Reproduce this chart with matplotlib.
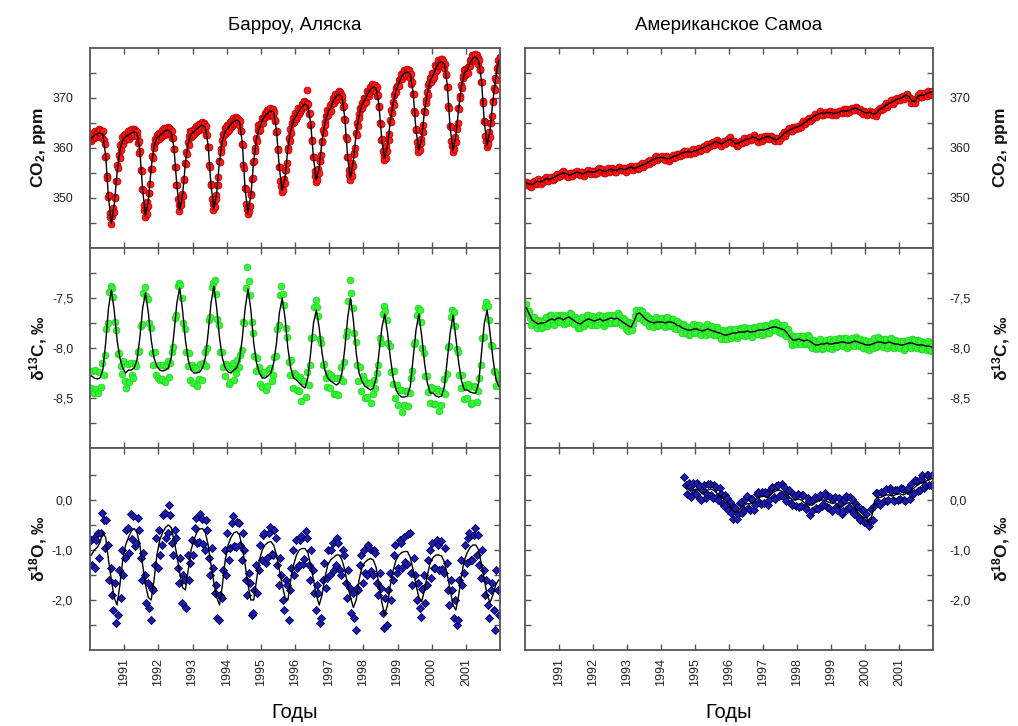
import numpy as np
import matplotlib
matplotlib.use("Agg")
import matplotlib.pyplot as plt
from matplotlib.ticker import FixedLocator, FuncFormatter

plt.rcParams['font.family'] = ['Liberation Sans', 'DejaVu Sans']
plt.rcParams['mathtext.default'] = 'regular'

# ---------------- data ----------------
years = list(range(1990, 2002))
year_ticks = list(range(1991, 2002))
titles = ["Барроу, Аляска", "Американское Самоа"]
xlabel = "Годы"
ylabels = ["CO$_2$, ppm", "δ$^{13}$C, ‰", "δ$^{18}$O, ‰"]

# Barrow CO2 smooth curve, monthly (Jan..Dec)
brw_co2 = [
    [362.0, 362.5, 362.8, 363.0, 362.8, 358.5, 350.0, 345.0, 348.5, 355.0, 359.5, 361.5],
    [362.3, 362.6, 363.0, 363.2, 363.0, 359.5, 351.5, 346.5, 349.5, 356.0, 360.5, 362.0],
    [362.5, 363.0, 363.5, 363.6, 363.2, 360.0, 352.5, 347.5, 350.5, 357.0, 361.0, 362.8],
    [363.2, 363.8, 364.3, 364.6, 364.2, 360.5, 352.5, 347.8, 351.0, 357.5, 361.5, 363.3],
    [364.0, 364.8, 365.3, 365.6, 365.3, 361.0, 351.5, 347.0, 350.5, 357.5, 362.0, 364.0],
    [365.5, 366.5, 367.0, 367.4, 367.2, 363.5, 356.0, 351.5, 354.0, 360.0, 363.5, 365.5],
    [366.5, 367.5, 368.3, 368.8, 368.5, 365.0, 358.0, 353.5, 356.0, 361.5, 365.0, 367.0],
    [368.0, 369.5, 370.3, 370.8, 370.3, 366.0, 358.0, 354.0, 357.5, 363.0, 366.5, 368.5],
    [369.5, 370.8, 371.7, 372.2, 372.0, 368.5, 361.5, 358.0, 360.5, 365.5, 369.0, 371.5],
    [373.0, 374.3, 375.0, 375.2, 374.8, 371.0, 363.5, 359.5, 362.0, 367.5, 371.0, 373.5],
    [374.5, 376.0, 377.0, 377.3, 376.8, 372.5, 364.0, 359.5, 362.5, 368.0, 372.5, 375.0],
    [375.5, 377.0, 378.0, 378.2, 377.5, 373.5, 365.0, 360.5, 363.5, 369.5, 374.0, 377.5],
]
# Barrow CO2 flask samples, four per month (Jan..Dec, one row per year)
brw_co2_pts = [
    [362.6,361.5,362.9,361.8, 363.1,362.0,362.3,363.4, 362.2,363.5,362.6,363.3, 363.8,362.4,363.6,362.7,
     363.4,362.1,363.5,361.6, 360.9,358.3,358.4,354.5, 354.0,350.3,350.6,347.0, 346.2,344.8,346.4,347.1,
     348.0,347.3,350.3,350.1, 353.5,353.4,356.6,356.0, 358.6,358.1,360.6,359.6, 361.0,362.2,360.9,362.6],
    [361.7,362.9,362.0,363.1, 362.2,363.4,361.9,362.8, 363.6,362.5,363.8,362.4, 362.6,363.9,362.8,363.7,
     363.5,362.4,363.2,361.0, 361.5,359.1,359.4,355.6, 355.4,351.8,351.7,348.7, 347.6,346.3,347.8,346.8,
     349.2,348.5,351.1,351.0, 352.8,355.9,355.8,358.5, 358.1,360.6,360.0,361.8, 361.4,362.6,361.7,362.9],
    [363.1,361.9,362.8,362.2, 363.6,362.4,363.3,362.7, 364.1,363.0,364.0,362.9, 363.0,364.3,363.2,364.1,
     363.8,362.6,363.5,362.0, 362.0,359.8,359.9,356.3, 356.2,352.6,352.7,349.8, 348.6,347.4,348.7,349.2,
     348.6,350.9,350.5,353.7, 353.8,357.0,356.8,359.3, 358.8,361.2,360.6,362.4, 363.4,362.2,363.5,362.4],
    [362.6,363.8,362.9,364.0, 363.2,364.5,363.4,364.2, 364.9,363.7,364.8,363.9, 364.0,365.3,364.2,365.1,
     364.9,363.6,364.4,362.7, 362.6,360.3,360.3,356.6, 356.3,352.8,352.7,349.8, 348.8,347.6,349.0,348.2,
     350.6,349.9,352.7,352.6, 354.3,357.5,357.2,359.8, 359.3,361.7,361.0,362.9, 362.7,364.0,363.1,364.2],
    [364.6,363.4,364.5,363.7, 365.3,364.2,365.5,364.4, 364.8,366.0,365.0,365.9, 366.2,365.0,366.1,365.2,
     365.9,364.6,365.5,363.5, 363.4,360.9,360.6,356.6, 356.0,352.0,351.8,348.9, 347.9,346.8,348.2,347.5,
     348.4,350.8,350.6,353.9, 354.1,357.3,357.4,360.0, 359.5,362.1,361.5,363.6, 364.6,363.4,364.8,363.6],
    [364.9,366.1,365.1,366.0, 366.0,367.1,366.2,366.9, 367.6,366.4,367.5,366.6, 366.8,368.0,367.0,367.9,
     367.8,366.5,367.3,365.4, 365.6,363.3,363.4,359.9, 359.6,356.2,356.2,353.5, 352.5,351.3,352.6,351.6,
     353.9,353.0,355.6,355.6, 357.1,360.0,359.7,362.0, 361.5,363.8,363.1,365.0, 365.0,366.1,365.3,366.2],
    [367.1,365.9,366.9,366.2, 368.0,366.9,368.1,367.2, 367.7,368.9,368.0,368.8, 369.4,368.2,369.3,368.4,
     369.1,371.6,368.8,366.9, 367.1,364.7,364.9,361.6, 361.4,358.2,358.2,355.5, 354.4,353.3,354.6,353.6,
     355.9,355.0,357.5,357.4, 358.6,361.5,361.2,363.6, 363.0,365.3,364.6,366.5, 366.4,367.6,366.6,367.7],
    [367.4,368.6,367.5,368.9, 369.0,370.1,369.1,370.2, 370.9,369.7,370.8,369.9, 370.2,371.4,370.4,371.3,
     370.9,369.6,370.4,368.3, 368.4,365.8,365.7,362.2, 361.8,358.3,358.3,355.6, 354.7,353.6,355.2,354.5,
     357.0,356.4,359.0,358.8, 360.1,363.0,362.7,365.1, 364.5,366.8,366.1,368.0, 367.9,369.1,368.1,369.3],
    [370.1,368.9,370.0,369.2, 371.4,370.2,371.3,370.5, 371.1,372.3,371.4,372.2, 372.8,371.6,372.7,371.8,
     372.6,371.3,372.2,370.4, 370.6,368.2,368.4,365.1, 364.9,361.7,361.9,359.4, 358.5,357.6,359.1,358.1,
     360.4,359.5,361.9,361.6, 362.8,365.6,365.2,367.6, 367.0,369.3,368.6,370.6, 371.0,372.1,371.2,372.4],
    [372.4,373.6,372.5,373.8, 373.8,374.9,373.9,375.0, 375.6,374.4,375.5,374.6, 374.6,375.8,374.8,375.7,
     375.4,374.1,374.9,372.8, 373.2,370.8,370.9,367.4, 367.1,363.7,363.8,361.2, 360.2,359.2,360.6,359.7,
     361.9,361.0,363.5,363.3, 364.6,367.5,367.2,369.6, 369.0,371.3,370.6,372.6, 373.0,374.1,373.2,374.3],
    [375.1,373.9,375.0,374.3, 376.6,375.4,376.5,375.7, 376.4,377.6,376.7,377.5, 377.9,376.7,377.8,376.9,
     377.4,376.1,376.9,374.6, 374.9,372.3,372.2,368.5, 368.0,364.4,364.3,361.5, 360.4,359.3,360.7,359.9,
     362.2,361.3,364.0,363.8, 365.1,368.0,367.8,370.5, 370.1,372.6,372.1,374.1, 374.5,375.6,374.7,375.9],
    [374.9,376.1,375.0,376.3, 376.4,377.6,376.5,377.7, 378.6,377.4,378.5,377.6, 377.7,378.8,377.9,378.7,
     378.1,376.8,377.6,375.6, 375.8,373.3,373.2,369.5, 369.0,365.4,365.3,362.5, 361.4,360.3,361.7,360.9,
     363.2,362.3,365.1,365.0, 366.5,369.5,369.3,372.0, 371.6,374.1,373.7,376.1, 375.6,377.7,376.9,378.3],
]

brw_c13 = [
    [-8.28, -8.30, -8.31, -8.30, -8.22, -7.95, -7.60, -7.42, -7.62, -7.92, -8.10, -8.20],
    [-8.25, -8.22, -8.22, -8.20, -8.12, -7.90, -7.60, -7.45, -7.65, -7.92, -8.10, -8.18],
    [-8.22, -8.23, -8.22, -8.20, -8.10, -7.85, -7.55, -7.40, -7.62, -7.92, -8.12, -8.22],
    [-8.25, -8.25, -8.24, -8.20, -8.10, -7.85, -7.55, -7.38, -7.60, -7.90, -8.10, -8.20],
    [-8.24, -8.25, -8.22, -8.20, -8.12, -7.90, -7.60, -7.41, -7.62, -7.95, -8.15, -8.25],
    [-8.30, -8.30, -8.28, -8.25, -8.15, -7.95, -7.65, -7.50, -7.70, -8.00, -8.20, -8.30],
    [-8.32, -8.35, -8.38, -8.40, -8.30, -8.05, -7.75, -7.62, -7.80, -8.05, -8.22, -8.30],
    [-8.33, -8.35, -8.37, -8.35, -8.25, -8.00, -7.70, -7.50, -7.72, -8.05, -8.25, -8.33],
    [-8.38, -8.40, -8.42, -8.40, -8.30, -8.05, -7.80, -7.66, -7.85, -8.10, -8.30, -8.42],
    [-8.47, -8.49, -8.49, -8.48, -8.38, -8.10, -7.82, -7.66, -7.88, -8.15, -8.35, -8.45],
    [-8.45, -8.48, -8.49, -8.48, -8.38, -8.12, -7.85, -7.67, -7.90, -8.15, -8.33, -8.42],
    [-8.42, -8.44, -8.45, -8.45, -8.35, -8.05, -7.75, -7.62, -7.85, -8.10, -8.30, -8.38],
]
# flask samples: deviation from the curve, two per month
brw_c13_dev = [
    [-0.12,0.05, -0.15,0.08, -0.10,-0.14, 0.06,-0.09, 0.07,-0.05, -0.12,0.14, -0.15,0.16, 0.04,0.02, 0.13,-0.12, 0.10,-0.14, 0.05,-0.08, -0.06,0.07],
    [-0.08,-0.15, 0.06,-0.12, 0.07,-0.05, -0.10,0.05, -0.06,0.08, -0.13,0.12, -0.16,0.15, 0.06,-0.03, 0.14,-0.10, 0.12,-0.13, -0.07,0.06, -0.09,-0.12],
    [0.05,-0.10, -0.08,0.06, -0.12,0.04, 0.07,-0.09, -0.05,0.06, -0.14,0.15, -0.12,0.17, 0.05,0.03, 0.12,-0.13, 0.11,-0.12, -0.06,0.07, -0.10,0.05],
    [-0.10,0.06, 0.05,-0.13, -0.07,0.08, -0.12,0.05, 0.06,-0.08, -0.15,0.13, -0.14,0.16, 0.03,0.06, 0.14,-0.11, 0.13,-0.14, 0.06,-0.09, -0.08,0.04],
    [0.06,-0.12, -0.09,0.05, 0.07,-0.10, -0.05,0.08, -0.07,0.05, -0.12,0.16, -0.15,0.20, 0.22,0.08, 0.15,-0.12, 0.10,-0.13, -0.08,0.05, 0.06,-0.11],
    [-0.09,0.05, 0.06,-0.12, -0.10,0.07, 0.05,-0.08, -0.12,0.06, -0.13,0.14, -0.12,0.18, 0.12,0.04, 0.13,-0.10, 0.11,-0.14, -0.07,0.08, -0.10,0.05],
    [0.05,-0.10, -0.08,0.06, -0.15,0.05, 0.07,-0.09, 0.06,-0.07, -0.12,0.15, -0.14,0.16, 0.10,0.03, 0.12,-0.11, 0.10,-0.12, 0.06,-0.08, -0.09,0.05],
    [-0.07,0.06, 0.05,-0.11, -0.09,0.07, -0.12,0.05, 0.06,-0.08, -0.14,0.12, -0.13,0.17, 0.18,0.05, 0.12,-0.13, 0.11,-0.12, -0.08,0.06, -0.10,0.05],
    [0.06,-0.12, -0.09,0.05, 0.07,-0.13, -0.06,0.08, -0.10,0.05, -0.12,0.15, -0.15,0.14, 0.08,0.03, 0.13,-0.10, 0.12,-0.14, -0.06,0.07, -0.08,0.05],
    [-0.10,0.05, 0.07,-0.15, -0.08,0.06, 0.05,-0.10, -0.07,0.08, -0.13,0.14, -0.12,0.15, 0.06,0.04, 0.14,-0.12, 0.10,-0.13, 0.07,-0.09, -0.10,0.06],
    [0.05,-0.11, -0.08,0.07, 0.06,-0.14, -0.09,0.05, 0.07,-0.08, -0.14,0.13, -0.13,0.16, 0.05,0.03, 0.12,-0.11, 0.11,-0.12, -0.07,0.06, -0.09,0.05],
    [-0.08,0.06, 0.05,-0.12, -0.10,0.07, 0.06,-0.09, -0.08,0.05, -0.12,0.15, -0.14,0.16, 0.08,0.04, 0.13,-0.12, 0.12,-0.13, 0.06,-0.08, 0.07,0.10],
]

brw_o18 = [
    [-1.10, -1.00, -0.95, -0.85, -0.65, -0.75, -1.20, -1.60, -1.95, -2.10, -1.70, -1.20],
    [-0.90, -0.75, -0.62, -0.57, -0.65, -0.90, -1.30, -1.70, -1.95, -2.00, -1.60, -1.10],
    [-0.80, -0.65, -0.55, -0.50, -0.55, -0.80, -1.10, -1.45, -1.75, -1.80, -1.40, -1.00],
    [-0.80, -0.65, -0.58, -0.57, -0.65, -0.90, -1.30, -1.65, -1.95, -2.10, -1.70, -1.20],
    [-0.90, -0.75, -0.66, -0.63, -0.70, -0.95, -1.30, -1.70, -2.00, -2.00, -1.60, -1.20],
    [-1.00, -0.90, -0.85, -0.83, -0.90, -1.10, -1.40, -1.70, -1.95, -2.00, -1.60, -1.30],
    [-1.10, -1.00, -0.97, -0.97, -1.05, -1.30, -1.60, -1.90, -2.10, -1.90, -1.55, -1.30],
    [-1.20, -1.15, -1.10, -1.10, -1.20, -1.40, -1.70, -1.95, -2.15, -2.00, -1.60, -1.35],
    [-1.25, -1.20, -1.17, -1.20, -1.35, -1.70, -2.05, -2.30, -2.10, -1.70, -1.40, -1.20],
    [-1.10, -1.05, -1.03, -1.03, -1.15, -1.40, -1.70, -1.95, -2.03, -1.80, -1.50, -1.25],
    [-1.15, -1.10, -1.10, -1.12, -1.25, -1.50, -1.80, -2.10, -2.20, -1.90, -1.50, -1.20],
    [-1.05, -0.95, -0.90, -0.90, -1.00, -1.30, -1.60, -1.90, -2.05, -1.90, -1.70, -1.60],
]
brw_o18_dev = [
    [0.3,-0.2, 0.25,-0.35, 0.15,0.3, -0.3,0.2, 0.4,0.25, -0.2,0.35, 0.3,-0.4, 0.25,-0.3, -0.25,0.3, -0.35,-0.2, 0.3,-0.25, 0.2,-0.3],
    [-0.25,0.3, 0.2,-0.3, 0.35,-0.15, 0.25,-0.35, -0.2,0.3, 0.3,-0.25, -0.3,0.25, 0.2,-0.35, 0.3,-0.2, -0.4,0.25, -0.2,0.3, 0.35,-0.25],
    [0.2,-0.3, -0.25,0.35, 0.3,-0.2, -0.15,0.4, 0.25,-0.3, -0.3,0.2, 0.35,-0.25, -0.2,0.3, -0.3,0.25, 0.2,-0.35, 0.3,-0.2, -0.25,0.2],
    [-0.3,0.25, 0.3,-0.2, -0.25,0.3, 0.2,-0.3, -0.35,0.25, 0.3,-0.25, -0.2,0.35, 0.3,-0.2, 0.25,-0.4, -0.3,0.2, -0.25,0.3, 0.2,-0.3],
    [0.25,-0.3, -0.2,0.3, 0.35,-0.25, -0.3,0.2, 0.25,-0.2, -0.25,0.3, 0.3,-0.3, -0.2,0.25, 0.35,-0.3, -0.25,0.2, 0.3,-0.25, -0.2,0.3],
    [-0.2,0.3, 0.25,-0.35, -0.3,0.2, 0.3,-0.25, -0.2,0.3, 0.35,-0.2, -0.3,0.25, 0.2,-0.3, -0.25,0.35, 0.3,-0.4, -0.2,0.25, 0.3,-0.2],
    [0.3,-0.25, -0.3,0.2, 0.25,-0.3, -0.2,0.35, 0.3,-0.25, -0.3,0.3, 0.2,-0.25, -0.3,0.2, 0.25,-0.35, -0.45,0.3, 0.3,-0.2, -0.25,0.3],
    [-0.3,0.2, 0.3,-0.25, -0.2,0.35, 0.25,-0.3, -0.3,0.2, 0.3,-0.25, -0.25,0.3, 0.2,-0.3, 0.3,-0.2, -0.6,0.25, -0.2,0.3, 0.25,-0.3],
    [0.25,-0.2, -0.3,0.3, 0.2,-0.25, -0.3,0.2, 0.3,-0.3, -0.2,0.25, 0.3,-0.2, -0.25,0.35, -0.4,0.3, 0.25,-0.3, -0.2,0.3, 0.3,-0.25],
    [-0.25,0.3, 0.2,-0.3, 0.3,-0.2, -0.25,0.35, 0.5,-0.3, -0.3,0.25, 0.2,-0.3, 0.3,-0.2, -0.3,0.25, 0.3,-0.25, -0.2,0.3, 0.25,-0.3],
    [0.3,-0.2, -0.25,0.3, 0.2,-0.3, 0.3,-0.25, -0.2,0.3, 0.25,-0.3, -0.3,0.2, 0.3,-0.25, 0.2,-0.3, -0.5,0.3, 0.3,-0.2, -0.25,0.3],
    [-0.2,0.3, 0.3,-0.25, -0.3,0.2, 0.35,-0.2, 0.3,-0.3, -0.25,0.3, 0.2,-0.3, 0.3,-0.2, -0.3,0.25, 0.25,-0.3, -0.9,0.3, -0.2,-0.7],
]

smo_co2 = [
    [353.0, 352.8, 352.7, 353.0, 353.4, 353.2, 353.5, 353.9, 353.7, 353.9, 354.2, 354.5],
    [354.8, 355.0, 354.9, 354.6, 354.7, 355.0, 355.2, 355.0, 354.8, 355.1, 355.3, 355.2],
    [355.2, 355.5, 355.7, 355.4, 355.3, 355.6, 355.8, 355.5, 355.6, 355.9, 355.8, 355.7],
    [356.0, 356.2, 355.9, 356.1, 356.4, 356.6, 356.8, 357.2, 357.4, 357.8, 358.0, 358.1],
    [358.1, 358.0, 357.8, 358.0, 358.3, 358.5, 358.7, 359.0, 359.2, 359.3, 359.1, 359.4],
    [359.5, 359.7, 360.0, 360.2, 360.5, 360.7, 361.0, 361.3, 361.0, 360.8, 361.2, 361.5],
    [361.8, 361.3, 360.8, 361.0, 361.3, 361.6, 361.8, 361.9, 362.2, 362.0, 361.6, 361.9],
    [362.1, 362.3, 362.2, 361.9, 361.6, 361.8, 362.4, 362.9, 363.3, 363.6, 363.9, 364.1],
    [364.3, 364.6, 365.0, 365.4, 365.8, 366.1, 366.5, 366.8, 367.0, 366.9, 367.1, 367.1],
    [367.0, 366.9, 367.1, 367.3, 367.5, 367.4, 367.5, 367.8, 368.0, 367.8, 367.5, 367.2],
    [367.0, 367.2, 366.9, 366.8, 367.3, 367.8, 368.2, 368.6, 368.9, 369.2, 369.5, 369.8],
    [369.9, 370.2, 370.6, 370.3, 369.5, 369.2, 370.2, 370.6, 370.5, 370.8, 371.0, 371.2],
]
smo_co2_dev = [
    [0.3,-0.4, 0.2,-0.3, -0.4,0.3, 0.4,-0.2, -0.3,0.4, 0.2,-0.4, -0.3,0.3, 0.4,-0.3, -0.2,0.4, 0.3,-0.3, -0.4,0.2, 0.3,-0.2],
    [-0.3,0.2, 0.4,-0.3, 0.2,-0.4, -0.3,0.3, 0.4,-0.2, -0.2,0.3, 0.3,-0.4, -0.3,0.2, 0.4,-0.3, -0.2,0.4, 0.3,-0.3, -0.4,0.3],
    [0.2,-0.3, -0.4,0.3, 0.3,-0.2, 0.4,-0.4, -0.2,0.3, 0.3,-0.3, -0.4,0.2, 0.2,-0.3, -0.3,0.4, 0.4,-0.2, -0.2,0.3, 0.3,-0.4],
    [-0.4,0.3, 0.3,-0.2, -0.2,0.4, 0.3,-0.3, -0.3,0.2, 0.4,-0.3, -0.2,0.3, 0.3,-0.4, 0.2,-0.2, -0.3,0.4, 0.4,-0.3, -0.2,0.2],
    [0.3,-0.2, -0.3,0.4, 0.4,-0.3, -0.2,0.2, 0.3,-0.4, -0.3,0.3, 0.2,-0.2, -0.4,0.3, 0.3,-0.3, 0.2,-0.4, -0.3,0.2, 0.4,-0.3],
    [-0.2,0.3, 0.4,-0.3, -0.3,0.2, 0.2,-0.4, 0.4,-0.2, -0.3,0.3, 0.3,-0.3, -0.2,0.4, 0.3,-0.2, -0.4,0.3, 0.2,-0.3, -0.3,0.4],
    [0.4,-0.3, -0.2,0.2, 0.3,-0.4, -0.3,0.3, 0.2,-0.2, 0.4,-0.3, -0.3,0.2, 0.3,-0.3, -0.4,0.4, 0.2,-0.2, -0.3,0.3, 0.3,-0.4],
    [-0.3,0.4, 0.2,-0.3, -0.4,0.3, 0.3,-0.2, -0.2,0.4, 0.3,-0.3, -0.3,0.2, 0.4,-0.4, -0.2,0.3, 0.3,-0.2, -0.4,0.3, 0.2,-0.3],
    [0.2,-0.3, -0.3,0.3, 0.4,-0.2, -0.2,0.4, 0.3,-0.3, -0.4,0.2, 0.3,-0.3, -0.2,0.3, 0.4,-0.4, -0.3,0.2, 0.2,-0.3, -0.3,0.4],
    [-0.4,0.2, 0.3,-0.3, -0.2,0.4, 0.2,-0.2, -0.3,0.3, 0.4,-0.4, -0.2,0.3, 0.3,-0.2, -0.4,0.3, 0.2,-0.3, 0.3,-0.2, -0.3,0.3],
    [0.3,-0.3, -0.4,0.2, 0.2,-0.3, 0.4,-0.3, -0.3,0.4, 0.2,-0.2, -0.3,0.3, 0.3,-0.4, -0.2,0.2, 0.4,-0.3, -0.3,0.3, 0.2,-0.2],
    [-0.2,0.3, 0.3,-0.4, -0.3,0.2, 0.2,-0.3, -0.4,0.3, 0.3,-0.2, -0.2,0.4, 0.3,-0.3, -0.3,0.2, 0.2,-0.3, 0.4,-0.2, -0.3,0.3],
]

smo_c13 = [
    [-7.60, -7.66, -7.72, -7.74, -7.76, -7.75, -7.75, -7.74, -7.72, -7.71, -7.72, -7.70],
    [-7.70, -7.72, -7.70, -7.69, -7.71, -7.73, -7.75, -7.76, -7.74, -7.72, -7.71, -7.72],
    [-7.73, -7.72, -7.71, -7.73, -7.72, -7.71, -7.70, -7.71, -7.70, -7.72, -7.74, -7.76],
    [-7.78, -7.79, -7.73, -7.66, -7.65, -7.68, -7.71, -7.73, -7.74, -7.75, -7.74, -7.74],
    [-7.74, -7.75, -7.74, -7.74, -7.75, -7.77, -7.78, -7.80, -7.81, -7.82, -7.82, -7.81],
    [-7.81, -7.82, -7.83, -7.82, -7.81, -7.82, -7.83, -7.84, -7.85, -7.86, -7.87, -7.87],
    [-7.86, -7.85, -7.85, -7.84, -7.84, -7.84, -7.83, -7.84, -7.84, -7.83, -7.82, -7.82],
    [-7.82, -7.81, -7.80, -7.79, -7.79, -7.80, -7.81, -7.82, -7.85, -7.89, -7.92, -7.92],
    [-7.91, -7.92, -7.93, -7.92, -7.93, -7.95, -7.97, -7.97, -7.96, -7.96, -7.95, -7.96],
    [-7.96, -7.95, -7.95, -7.94, -7.94, -7.95, -7.95, -7.94, -7.93, -7.94, -7.95, -7.96],
    [-7.97, -7.97, -7.96, -7.95, -7.94, -7.94, -7.95, -7.95, -7.94, -7.95, -7.96, -7.96],
    [-7.97, -7.97, -7.96, -7.95, -7.95, -7.96, -7.97, -7.97, -7.97, -7.98, -7.98, -7.99],
]
smo_c13_dev = [
    [0.04,-0.05, 0.03,-0.04, -0.05,0.03, 0.05,-0.03, -0.04,0.04, 0.02,-0.05, -0.04,0.03, 0.05,-0.04, -0.03,0.05, 0.04,-0.03, -0.05,0.02, 0.03,-0.04],
    [-0.04,0.03, 0.05,-0.04, 0.02,-0.05, -0.04,0.04, 0.05,-0.03, -0.03,0.04, 0.04,-0.05, -0.04,0.03, 0.05,-0.04, -0.03,0.05, 0.04,-0.04, -0.05,0.04],
    [0.03,-0.04, -0.05,0.04, 0.04,-0.03, 0.05,-0.05, -0.03,0.04, 0.04,-0.04, -0.05,0.03, 0.03,-0.04, -0.04,0.05, 0.05,-0.03, -0.03,0.04, 0.04,-0.05],
    [-0.05,0.04, 0.04,-0.03, -0.03,0.05, 0.04,-0.04, -0.04,0.03, 0.05,-0.04, -0.03,0.04, 0.04,-0.05, 0.03,-0.03, -0.04,0.05, 0.05,-0.04, -0.03,0.03],
    [0.04,-0.03, -0.04,0.05, 0.05,-0.04, -0.03,0.03, 0.04,-0.05, -0.04,0.04, 0.03,-0.03, -0.05,0.04, 0.04,-0.04, 0.03,-0.05, -0.04,0.03, 0.05,-0.04],
    [-0.03,0.04, 0.05,-0.04, -0.04,0.03, 0.03,-0.05, 0.05,-0.03, -0.04,0.04, 0.04,-0.04, -0.03,0.05, 0.04,-0.03, -0.05,0.04, 0.03,-0.04, -0.04,0.05],
    [0.05,-0.04, -0.03,0.03, 0.04,-0.05, -0.04,0.04, 0.03,-0.03, 0.05,-0.04, -0.04,0.03, 0.04,-0.04, -0.05,0.05, 0.03,-0.03, -0.04,0.04, 0.04,-0.05],
    [-0.04,0.05, 0.03,-0.04, -0.05,0.04, 0.04,-0.03, -0.03,0.05, 0.04,-0.04, -0.04,0.03, 0.05,-0.05, -0.03,0.04, 0.04,-0.03, -0.05,0.04, 0.03,-0.04],
    [0.03,-0.04, -0.04,0.04, 0.05,-0.03, -0.03,0.05, 0.04,-0.04, -0.05,0.03, 0.04,-0.04, -0.03,0.04, 0.05,-0.05, -0.04,0.03, 0.03,-0.04, -0.04,0.05],
    [-0.05,0.03, 0.04,-0.04, -0.03,0.05, 0.03,-0.03, -0.04,0.04, 0.05,-0.05, -0.03,0.04, 0.04,-0.03, -0.05,0.04, 0.03,-0.04, 0.04,-0.03, -0.04,0.04],
    [0.04,-0.04, -0.05,0.03, 0.03,-0.04, 0.05,-0.04, -0.04,0.05, 0.03,-0.03, -0.04,0.04, 0.04,-0.05, -0.03,0.03, 0.05,-0.04, -0.04,0.04, 0.03,-0.03],
    [-0.03,0.04, 0.04,-0.05, -0.04,0.03, 0.03,-0.04, -0.05,0.04, 0.04,-0.03, -0.03,0.05, 0.04,-0.04, -0.04,0.03, 0.03,-0.04, 0.05,-0.03, -0.04,0.04],
]

# Samoa d18O starts in September 1994
smo_o18_start = 1994 + 8 / 12
smo_o18 = [
    [0.25, 0.22, 0.18, 0.20],
    [0.22, 0.18, 0.12, 0.15, 0.20, 0.22, 0.20, 0.15, 0.10, 0.05, 0.00, -0.05],
    [-0.15, -0.22, -0.25, -0.20, -0.15, -0.10, -0.07, -0.08, -0.05, 0.00, 0.05, 0.07],
    [0.07, 0.05, 0.10, 0.15, 0.18, 0.20, 0.18, 0.15, 0.10, 0.05, 0.00, 0.00],
    [0.02, 0.00, -0.05, -0.08, -0.10, -0.10, -0.05, -0.02, 0.00, 0.00, -0.03, -0.05],
    [-0.07, -0.05, -0.10, -0.15, -0.10, -0.07, -0.05, -0.08, -0.15, -0.25, -0.30, -0.35],
    [-0.35, -0.47, -0.30, 0.00, 0.05, 0.05, 0.08, 0.10, 0.10, 0.08, 0.10, 0.12],
    [0.12, 0.10, 0.13, 0.15, 0.20, 0.25, 0.30, 0.33, 0.35, 0.38, 0.40, 0.43],
]
smo_o18_dev = [
    [0.22,0.05, -0.1,0.12, 0.08,-0.12, 0.15,-0.05],
    [-0.1,0.12, 0.1,-0.15, -0.12,0.08, 0.15,-0.1, -0.08,0.12, 0.1,-0.12, -0.15,0.1, 0.12,-0.08, -0.1,0.15, 0.08,-0.12, -0.12,0.1, 0.1,-0.15],
    [0.12,-0.1, -0.15,0.08, 0.1,-0.12, -0.08,0.15, 0.12,-0.1, -0.1,0.12, 0.15,-0.08, -0.12,0.1, 0.08,-0.15, -0.1,0.12, 0.12,-0.08, -0.15,0.1],
    [-0.12,0.1, 0.08,-0.15, -0.1,0.12, 0.12,-0.08, -0.15,0.1, 0.1,-0.12, -0.08,0.15, 0.12,-0.1, -0.12,0.08, 0.15,-0.1, -0.1,0.12, 0.08,-0.12],
    [0.1,-0.15, -0.12,0.1, 0.15,-0.08, -0.1,0.12, 0.08,-0.2, -0.12,0.1, 0.12,-0.1, -0.15,0.08, 0.1,-0.12, -0.08,0.15, 0.12,-0.1, -0.1,0.12],
    [-0.15,0.1, 0.12,-0.08, -0.1,0.15, 0.08,-0.12, -0.12,0.1, 0.15,-0.1, -0.08,0.12, 0.1,-0.15, -0.12,0.08, 0.12,-0.1, -0.1,0.12, 0.15,-0.08],
    [0.08,-0.1, -0.05,0.05, 0.12,-0.1, -0.12,0.15, 0.1,-0.08, -0.15,0.12, 0.08,-0.1, 0.12,-0.12, -0.1,0.15, 0.1,-0.08, -0.12,0.1, 0.08,-0.12],
    [-0.1,0.12, 0.12,-0.1, -0.15,0.08, 0.1,-0.12, 0.12,-0.08, -0.1,0.15, 0.08,-0.12, -0.12,0.1, 0.15,-0.1, -0.08,0.12, 0.1,-0.1, -0.12,0.08],
]

# ---------------- helpers ----------------
def flat(rows):
    return np.array([v for r in rows for v in r], dtype=float)

def series(rows, dev_rows, t0):
    line = flat(rows)
    n = len(line)
    tm = t0 + (np.arange(n) + 0.5) / 12.0
    dev = flat(dev_rows)
    ts = np.repeat(tm, 2) + np.tile([-0.25 / 12, 0.25 / 12], n)
    return tm, line, ts, np.repeat(line, 2) + dev

def series_pts(rows, pt_rows, t0):
    line = flat(rows)
    n = len(line)
    tm = t0 + (np.arange(n) + 0.5) / 12.0
    pts = flat(pt_rows)
    ts = t0 + (np.arange(len(pts)) + 0.5) / 48.0
    return tm, line, ts, pts

def comma_fmt(step_label, decimals):
    def f(v, pos):
        if abs(v / step_label - round(v / step_label)) > 1e-6:
            return ""
        if abs(v) < 1e-9:
            v = 0.0
        return f"{v:.{decimals}f}".replace(".", ",")
    return FuncFormatter(f)

# ---------------- figure ----------------
W, H = 1018, 726
fig = plt.figure(figsize=(W / 100, H / 100), dpi=100)

col_x = [(90, 500), (525, 933)]
row_y = [(48, 248), (248, 448), (448, 650)]

row_cfg = [
    dict(ylim=(340, 380), ticks=np.arange(345, 376, 5), fmt=comma_fmt(10, 0)),
    dict(ylim=(-9.0, -7.0), ticks=np.arange(-8.75, -7.2, 0.25), fmt=comma_fmt(0.5, 1)),
    dict(ylim=(-3.0, 1.04), ticks=np.arange(-2.5, 0.6, 0.5), fmt=comma_fmt(1.0, 1)),
]

data = [
    [series_pts(brw_co2, brw_co2_pts, 1990), series(smo_co2, smo_co2_dev, 1990)],
    [series(brw_c13, brw_c13_dev, 1990), series(smo_c13, smo_c13_dev, 1990)],
    [series(brw_o18, brw_o18_dev, 1990), series(smo_o18, smo_o18_dev, smo_o18_start)],
]
styles = [
    dict(marker='o', s=24, facecolor='#ff1a1a', edgecolor='#c00000', linewidths=0.6),
    dict(marker='o', s=24, facecolor='#33f533', edgecolor='#22cc22', linewidths=0.5),
    dict(marker='D', s=17, facecolor='#1c1cb0', edgecolor='#000050', linewidths=0.6),
]

spine_col = '#555555'
for r in range(3):
    for c in range(2):
        x0, x1 = col_x[c]
        y0, y1 = row_y[r]
        ax = fig.add_axes([x0 / W, 1 - y1 / H, (x1 - x0) / W, (y1 - y0) / H])
        tm, line, ts, pts = data[r][c]
        ax.scatter(ts, pts, zorder=2, **styles[r])
        ax.plot(tm, line, color='black', lw=1.0, zorder=3)
        ax.set_xlim(1990, 2002)
        ax.set_ylim(*row_cfg[r]['ylim'])
        ax.xaxis.set_major_locator(FixedLocator(year_ticks))
        ax.yaxis.set_major_locator(FixedLocator(row_cfg[r]['ticks']))
        ax.yaxis.set_major_formatter(row_cfg[r]['fmt'])
        for sp in ax.spines.values():
            sp.set_color(spine_col)
            sp.set_linewidth(1.3)
        ax.tick_params(which='both', direction='in', length=4, width=1.0,
                       color=spine_col, top=True, bottom=True, left=True, right=True,
                       labelsize=9, labelcolor='#222222', pad=12)
        yc = 1 - (y0 + y1) / 2 / H
        if c == 1:
            ax.tick_params(labelleft=False, labelright=True)
            fig.text(1001 / W, yc, ylabels[r], rotation=90, ha='center', va='center',
                     fontsize=12.5, fontweight='bold', color='#111111')
        else:
            fig.text(38 / W, yc, ylabels[r], rotation=90, ha='center', va='center',
                     fontsize=12.5, fontweight='bold', color='#111111')
        if r == 2:
            ax.set_xticklabels([str(y) for y in year_ticks], rotation=90)
            ax.tick_params(axis='x', pad=6, labelsize=9)
        else:
            ax.tick_params(axis='x', labelbottom=False)

for c in range(2):
    xc = (col_x[c][0] + col_x[c][1]) / 2 / W
    fig.text(xc, 1 - 25 / H, titles[c], ha='center', va='center', fontsize=13.5)
    fig.text(xc, 1 - 713 / H, xlabel, ha='center', va='center', fontsize=14.5)

fig.savefig("out.png", dpi=100)
